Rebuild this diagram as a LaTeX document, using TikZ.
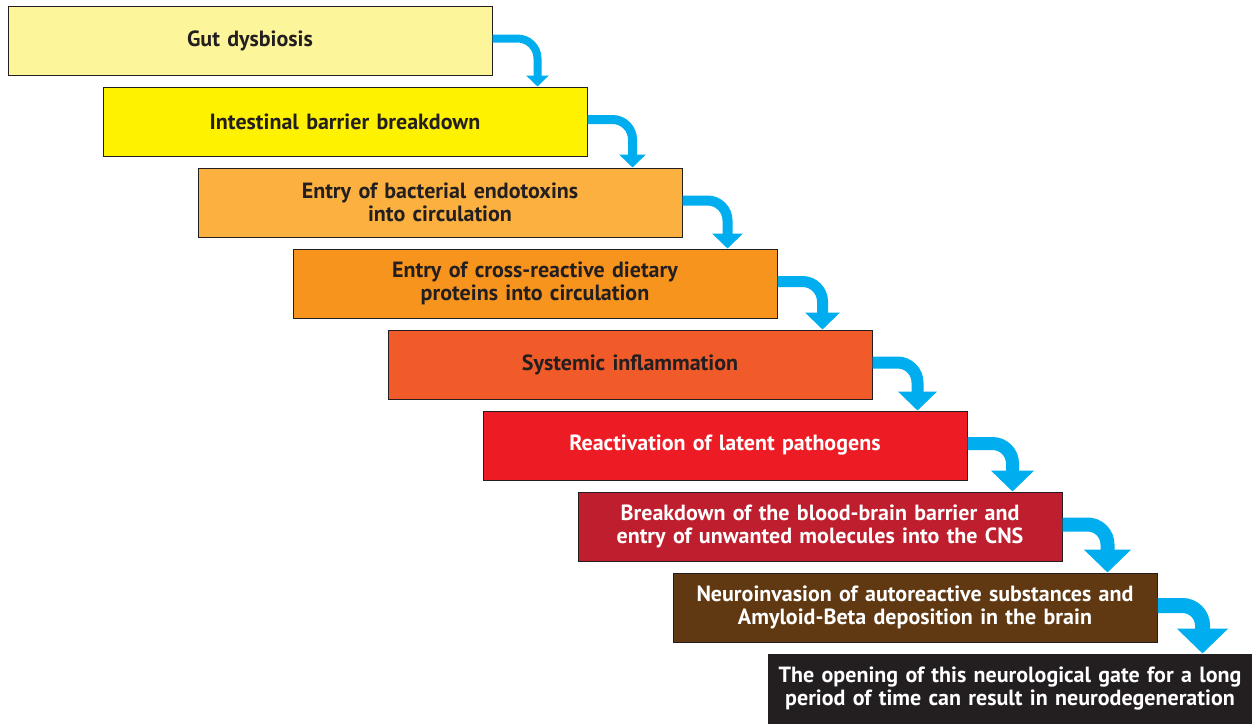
\documentclass[tikz,border=0pt]{standalone}
\usepackage{fontspec}
\setmainfont{PT Sans}
\usetikzlibrary{calc,arrows.meta}
\definecolor{stepA}{HTML}{FDF59A}
\definecolor{stepB}{HTML}{FFF200}
\definecolor{stepC}{HTML}{FBB040}
\definecolor{stepD}{HTML}{F7941D}
\definecolor{stepE}{HTML}{F15A29}
\definecolor{stepF}{HTML}{ED1C24}
\definecolor{stepG}{HTML}{BE1E2D}
\definecolor{stepH}{HTML}{603913}
\definecolor{stepI}{HTML}{231F20}
\definecolor{inkdark}{HTML}{231F20}
\definecolor{flowblue}{HTML}{00AEEF}
\tikzset{
  stagebox/.style={draw=inkdark, line width=1pt, minimum width=484pt, minimum height=69pt,
    text width=476pt, align=center, inner sep=0pt, font=\fontsize{22}{23.5}\selectfont\bfseries},
  flowarrow/.style={draw=flowblue, rounded corners=20pt}
}

\begin{document}
\begin{tikzpicture}[x=1pt,y=1pt]
      \useasboundingbox (0,0) rectangle (1252,-723);
      \foreach \i/\c/\t/\txt in {
          1/stepA/inkdark/{Gut dysbiosis},
          2/stepB/inkdark/{Intestinal barrier breakdown},
          3/stepC/inkdark/{Entry of bacterial endotoxins\\into circulation},
          4/stepD/inkdark/{Entry of cross-reactive dietary\\proteins into circulation},
          5/stepE/inkdark/{Systemic inflammation},
          6/stepF/white/{Reactivation of latent pathogens},
          7/stepG/white/{Breakdown of the blood-brain barrier and\\entry of unwanted molecules into the CNS},
          8/stepH/white/{Neuroinvasion of autoreactive substances and\\Amyloid-Beta deposition in the brain},
          9/stepI/white/{The opening of this neurological gate for a long\\period of time can result in neurodegeneration}}
        \node[stagebox, fill=\c, text=\t] (b\i) at ({250+95*(\i-1)}, {-40.5-81*(\i-1)}) {\txt};
      \foreach \i in {1,...,8} {
        \pgfmathtruncatemacro{\j}{\i+1}
        \pgfmathsetmacro{\thick}{8+(\i-1)}
        \pgfmathsetmacro{\headw}{22+4*(\i-1)}
        \pgfmathsetmacro{\headl}{\headw/2}
        \coordinate (s\i) at ($(b\i.east)+(0,2)$);
        \coordinate (e\i) at ($(b\i.east)+(45,0)$);
        \draw[flowarrow, line width=\thick pt, -{Triangle[width=\headw pt, length=\headl pt]}]
          (s\i) -- (s\i -| e\i) -- (e\i |- b\j.north);
      }
    \end{tikzpicture}
\end{document}
